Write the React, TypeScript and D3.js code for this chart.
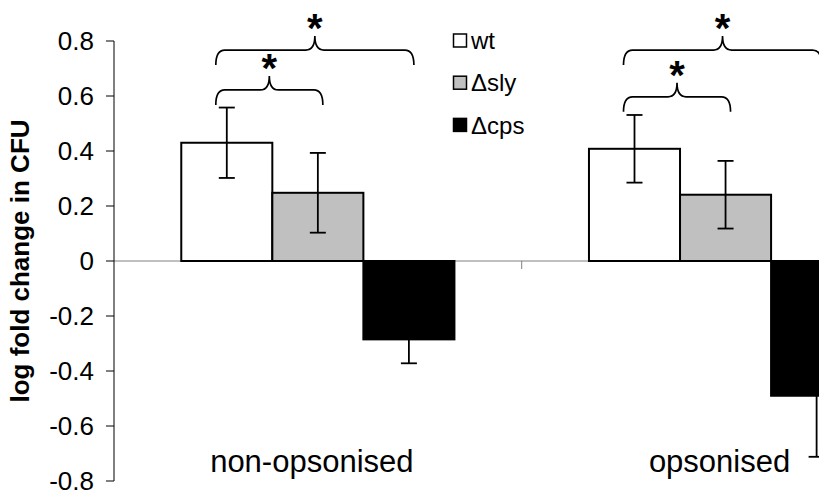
import React from "react";
import * as d3 from "d3";

const categories = ["non-opsonised", "opsonised"];
const seriesNames = ["wt", "\u0394sly", "\u0394cps"];
const wtValues = [0.43, 0.408];
const slyValues = [0.248, 0.241];
const cpsValues = [-0.285, -0.49];
const wtErrors = [0.128, 0.123];
const slyErrors = [0.145, 0.123];
const cpsErrors = [0.087, 0.222];
const yTicks = [-0.8, -0.6, -0.4, -0.2, 0, 0.2, 0.4, 0.6, 0.8];
const seriesFill = ["#ffffff", "#c0c0c0", "#000000"];
// significance braces: category index, from series, to series, level (data units)
const braceCats = [0, 0, 1, 1];
const braceFrom = [0, 0, 0, 0];
const braceTo = [1, 2, 1, 2];
const braceLevels = [0.622, 0.767, 0.597, 0.767];

const W = 819;
const H = 496;
const FONT = "'Liberation Sans', Arial, sans-serif";

export default function App() {
  const axisX = 114;
  const bandW = 407.7;
  const y = d3.scaleLinear().domain([-0.8, 0.8]).range([481, 41]);
  const x = d3
    .scaleBand<string>()
    .domain(categories)
    .range([axisX, axisX + bandW * categories.length])
    .padding(0);
  const groupW = bandW * 0.67;
  const inner = d3
    .scaleBand<string>()
    .domain(seriesNames)
    .range([0, groupW])
    .padding(0);
  const groupStart = (ci: number) =>
    (x(categories[ci]) as number) + (bandW - groupW) / 2;
  const barCenter = (ci: number, si: number) =>
    groupStart(ci) + (inner(seriesNames[si]) as number) + inner.bandwidth() / 2;

  const values = [wtValues, slyValues, cpsValues];
  const errors = [wtErrors, slyErrors, cpsErrors];
  const y0 = y(0);

  const bracePath = (x1: number, x2: number, yl: number) => {
    const d = 15;
    const c = 14;
    const r = 9;
    const xm = (x1 + x2) / 2;
    return [
      `M${x1},${yl + d}`,
      `Q${x1},${yl} ${x1 + r},${yl}`,
      `L${xm - r},${yl}`,
      `Q${xm},${yl} ${xm},${yl - c}`,
      `Q${xm},${yl} ${xm + r},${yl}`,
      `L${x2 - r},${yl}`,
      `Q${x2},${yl} ${x2},${yl + d}`,
    ].join(" ");
  };

  return (
    <svg
      width={W}
      height={H}
      viewBox={`0 0 ${W} ${H}`}
      style={{ position: "absolute", left: 0, top: 0, display: "block", background: "#fff" }}
      fontFamily={FONT}
    >
      <rect x={0} y={0} width={W} height={H} fill="#fff" />
      {/* zero line */}
      <line x1={axisX} x2={W} y1={y0} y2={y0} stroke="#808080" strokeWidth={1} />
      {categories.map((c, i) =>
        i > 0 ? (
          <line
            key={c}
            x1={x(c) as number}
            x2={x(c) as number}
            y1={y0}
            y2={y0 + 8}
            stroke="#808080"
            strokeWidth={1}
          />
        ) : null
      )}
      {/* bars */}
      {categories.map((c, ci) =>
        seriesNames.map((s, si) => {
          const v = values[si][ci];
          const bx = groupStart(ci) + (inner(s) as number);
          return (
            <rect
              key={`${c}-${s}`}
              x={bx}
              y={Math.min(y(v), y0)}
              width={inner.bandwidth()}
              height={Math.abs(y(v) - y0)}
              fill={seriesFill[si]}
              stroke="#000"
              strokeWidth={2}
            />
          );
        })
      )}
      {/* error bars */}
      {categories.map((c, ci) =>
        seriesNames.map((s, si) => {
          const v = values[si][ci];
          const e = errors[si][ci];
          const cx = barCenter(ci, si);
          return (
            <g key={`err-${c}-${s}`} stroke="#000" strokeWidth={1.8}>
              <line x1={cx} x2={cx} y1={y(v + e)} y2={y(v - e)} />
              <line x1={cx - 8} x2={cx + 8} y1={y(v + e)} y2={y(v + e)} />
              <line x1={cx - 8} x2={cx + 8} y1={y(v - e)} y2={y(v - e)} />
            </g>
          );
        })
      )}
      {/* y axis */}
      <line x1={axisX} x2={axisX} y1={y(0.8)} y2={y(-0.8)} stroke="#000" strokeWidth={1} />
      {yTicks.map((t) => (
        <g key={t}>
          <line x1={axisX - 8} x2={axisX} y1={y(t)} y2={y(t)} stroke="#000" strokeWidth={1} />
          <text
            x={axisX - 20}
            y={y(t)}
            dy="0.36em"
            textAnchor="end"
            fontSize={26}
            fill="#000"
          >
            {t === 0 ? "0" : t.toFixed(1)}
          </text>
        </g>
      ))}
      <text
        transform={`translate(29,${y0}) rotate(-90)`}
        textAnchor="middle"
        fontSize={26}
        fontWeight="bold"
        fill="#000"
      >
        log fold change in CFU
      </text>
      {/* category labels */}
      {categories.map((c) => (
        <text
          key={c}
          x={(x(c) as number) + bandW / 2 - 6}
          y={472}
          textAnchor="middle"
          fontSize={31}
          fill="#000"
        >
          {c}
        </text>
      ))}
      {/* braces */}
      {braceCats.map((ci, k) => {
        const x1 = barCenter(ci, braceFrom[k]) - 11;
        const x2 = barCenter(ci, braceTo[k]) + 5;
        const yl = y(braceLevels[k]);
        return (
          <g key={`brace-${k}`}>
            <path d={bracePath(x1, x2, yl)} fill="none" stroke="#000" strokeWidth={1.7} />
            <text
              x={(x1 + x2) / 2}
              y={yl - 14 + 6}
              textAnchor="middle"
              fontSize={40}
              fontWeight="bold"
              fill="#000"
            >
              *
            </text>
          </g>
        );
      })}
      {/* legend */}
      {seriesNames.map((s, i) => {
        const ly = 34 + i * 42.2;
        return (
          <g key={`leg-${s}`}>
            <rect
              x={453.5}
              y={ly}
              width={13}
              height={13}
              fill={seriesFill[i]}
              stroke="#000"
              strokeWidth={1.5}
            />
            <text x={471} y={ly + 6.5} dy="0.36em" fontSize={24} fill="#000">
              {s}
            </text>
          </g>
        );
      })}
    </svg>
  );
}
